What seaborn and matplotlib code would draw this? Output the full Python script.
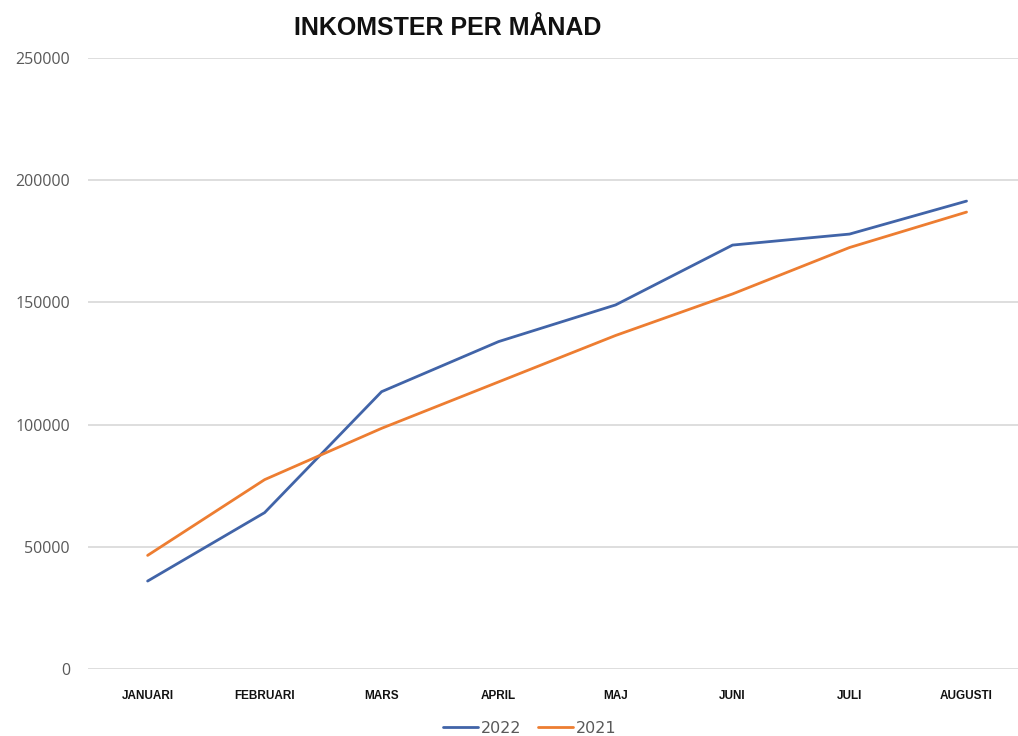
import pandas as pd
import matplotlib.pyplot as plt
import seaborn as sns

# monthly income
months = ['JANUARI', 'FEBRUARI', 'MARS', 'APRIL', 'MAJ', 'JUNI', 'JULI', 'AUGUSTI']
income_2022 = [36000, 64000, 113500, 134000, 149000, 173500, 178000, 191500]
income_2021 = [46500, 77500, 98500, 117500, 136500, 153500, 172500, 187000]
years = ['2022', '2021']
colors = {'2022': '#4164a8', '2021': '#ed7d31'}

df = pd.DataFrame({
    'pos': list(range(len(months))) * 2,
    'income': income_2022 + income_2021,
    'year': ['2022'] * len(months) + ['2021'] * len(months),
})

sns.set_theme(style='white')
plt.rcParams['font.family'] = ['DejaVu Sans']

fig = plt.figure(figsize=(10.18, 7.36), dpi=100)
ax = fig.add_axes([0.0864, 0.091, 0.9136, 0.830])

sns.lineplot(data=df, x='pos', y='income', hue='year', hue_order=years,
             palette=colors, linewidth=2.0, ax=ax)

ax.set_xlim(-0.51, 7.44)
ax.set_ylim(0, 250000)
ax.set_yticks(range(0, 250001, 50000))
ax.set_yticklabels([str(v) for v in range(0, 250001, 50000)],
                   color='#595959', fontsize=11.5, family=['Open Sans', 'DejaVu Sans'])
ax.set_xticks(range(len(months)))
ax.set_xticklabels(months, fontsize=8.5, fontweight='bold', color='#111111',
                   family=['Liberation Sans', 'DejaVu Sans'])
ax.tick_params(axis='x', length=0, pad=15)
ax.tick_params(axis='y', length=0, pad=13)
ax.yaxis.grid(True, color='#d4d4d4', linewidth=1.1)
ax.xaxis.grid(False)
for s in ax.spines.values():
    s.set_visible(False)
ax.set_xlabel('')
ax.set_ylabel('')

fig.text(0.44, 0.962, 'INKOMSTER PER MÅNAD', ha='center', va='center',
         fontsize=18, fontweight='bold', color='#111111',
         family=['Liberation Sans', 'DejaVu Sans'])

handles, labels = ax.get_legend_handles_labels()
ax.legend(handles, labels, loc='center', bbox_to_anchor=(0.475, -0.097),
          bbox_transform=ax.transAxes, ncol=2, frameon=False, fontsize=11.5,
          handlelength=2.2, handletextpad=0.2, columnspacing=1.0,
          labelcolor='#595959')

fig.savefig('out.png', dpi=100, facecolor='white')
